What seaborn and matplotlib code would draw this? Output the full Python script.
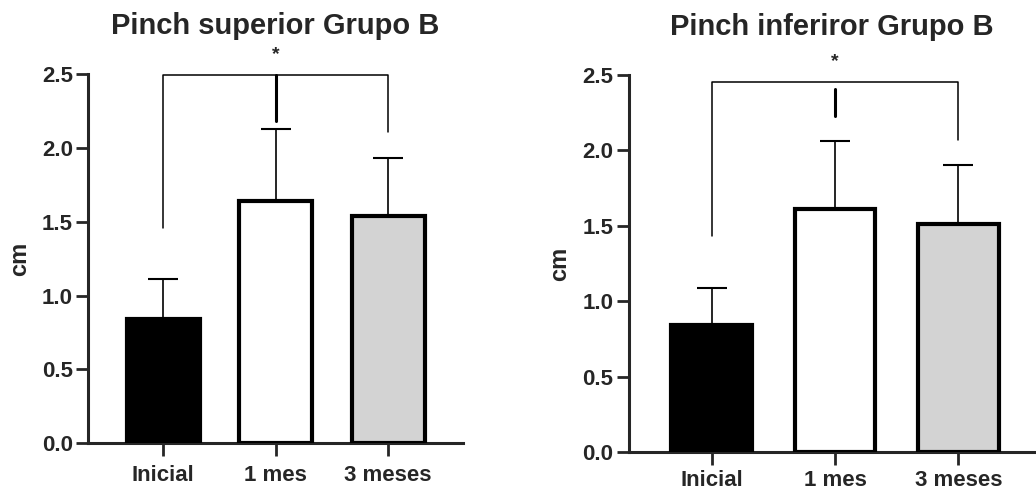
import matplotlib
matplotlib.use("Agg")
import matplotlib.pyplot as plt
import seaborn as sns
import pandas as pd

categories = ["Inicial", "1 mes", "3 meses"]
bar_colors = ["#000000", "#ffffff", "#d3d3d3"]

sup_means = [0.84, 1.64, 1.54]
sup_sd = [0.275, 0.49, 0.39]
inf_means = [0.845, 1.61, 1.515]
inf_sd = [0.245, 0.45, 0.385]

sns.set_style("ticks")
plt.rcParams["font.family"] = ["Liberation Sans", "DejaVu Sans"]
plt.rcParams["font.weight"] = "bold"

fig = plt.figure(figsize=(10.36, 4.93), dpi=100)
ax1 = fig.add_axes([0.085, 0.101, 0.362, 0.749])
ax2 = fig.add_axes([0.607, 0.083, 0.392, 0.765])


def draw(ax, means, sd, title, bracket, xlim, xpad):
    df = pd.DataFrame({"grupo": categories, "valor": means})
    sns.barplot(data=df, x="grupo", y="valor", hue="grupo", palette=bar_colors,
                width=0.65, edgecolor="black", linewidth=3, legend=False,
                ax=ax, zorder=3)
    ax.errorbar(range(len(means)), means, yerr=[[0] * len(sd), sd], fmt="none",
                ecolor="black", elinewidth=1.2, capsize=11, capthick=1.5, zorder=2)
    ax.set_ylim(0, 2.5)
    ax.set_xlim(*xlim)
    ax.set_yticks([0, 0.5, 1.0, 1.5, 2.0, 2.5])
    ax.set_yticklabels(["0.0", "0.5", "1.0", "1.5", "2.0", "2.5"])
    ax.set_xlabel("")
    ax.set_ylabel("cm", fontsize=17, fontweight="bold", labelpad=8)
    ax.set_title(title, fontsize=21, fontweight="bold", pad=29)
    ax.tick_params(axis="both", width=2, length=9, labelsize=16, pad=2)
    ax.tick_params(axis="x", pad=xpad)
    for lab in ax.get_xticklabels() + ax.get_yticklabels():
        lab.set_fontweight("bold")
    sns.despine(ax=ax)
    for s in ["left", "bottom"]:
        ax.spines[s].set_linewidth(2.2)

    top, left_end, right_end, mid_top, mid_bot, star_y = bracket
    ax.plot([0, 0, 2, 2], [left_end, top, top, right_end], color="black",
            lw=1.1, clip_on=False, zorder=4)
    ax.plot([1, 1], [mid_top, mid_bot], color="black", lw=2.2, clip_on=False, zorder=4)
    ax.text(1, star_y, "*", ha="center", va="center", fontsize=14, clip_on=False)


draw(ax1, sup_means, sup_sd, "Pinch superior Grupo B",
     (2.49, 1.46, 2.11, 2.49, 2.18, 2.63), (-0.667, 2.667), 7)
draw(ax2, inf_means, inf_sd, "Pinch inferiror Grupo B",
     (2.45, 1.43, 2.07, 2.405, 2.23, 2.59), (-0.67, 2.62), 4)

fig.savefig("out.png", dpi=100)
